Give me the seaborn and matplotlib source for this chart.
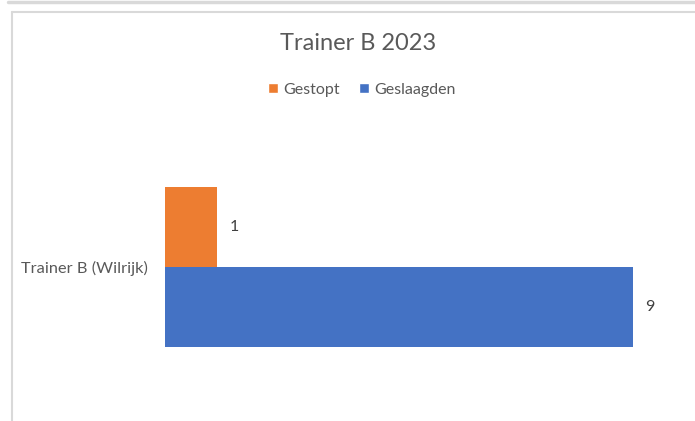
import matplotlib
matplotlib.use("Agg")
import matplotlib.pyplot as plt
from matplotlib.lines import Line2D
from matplotlib.patches import Patch
import seaborn as sns
import pandas as pd

categories = ["Trainer B (Wilrijk)"]
series = ["Gestopt", "Geslaagden"]
gestopt = [1]
geslaagden = [9]
colors = ["#ED7D31", "#4472C4"]

rows = []
for i, c in enumerate(categories):
    rows.append({"cat": c, "serie": "Gestopt", "val": gestopt[i]})
    rows.append({"cat": c, "serie": "Geslaagden", "val": geslaagden[i]})
df = pd.DataFrame(rows)

sns.set_theme(style="white")
plt.rcParams["font.family"] = ["Lato", "DejaVu Sans"]

W, H = 695, 421
fig = plt.figure(figsize=(W / 100, H / 100), dpi=100)
fig.patch.set_facecolor("white")

def fx(px):
    return px / W

def fy(py):
    return 1 - py / H

# axes: x 165 -> 685 px, y 120 -> 400 px
ax = fig.add_axes([fx(165), fy(400), fx(685) - fx(165), (400 - 120) / H])
sns.barplot(data=df, y="cat", x="val", hue="serie", hue_order=series,
            palette=colors, orient="h", width=0.8, saturation=1,
            ax=ax, legend=False, linewidth=0)
ax.set_xlim(0, 10)
ax.set_ylim(0.665, -0.735)
for s in ax.spines.values():
    s.set_visible(False)
ax.set_xticks([])
ax.set_yticks([])
ax.set_xlabel("")
ax.set_ylabel("")
ax.patch.set_alpha(0)

for cont in ax.containers:
    ax.bar_label(cont, padding=9, fontsize=11.5, color="#404040")

# category label
fig.text(fx(148), fy(268), categories[0], ha="right", va="center",
         fontsize=11.8, color="#595959")

# title
fig.text(fx(358), fy(44), "Trainer B 2023", ha="center", va="center",
         fontsize=17, color="#595959")

# legend
handles = [Patch(facecolor=colors[0], label=series[0]),
           Patch(facecolor=colors[1], label=series[1])]
fig.legend(handles=handles, loc="center", bbox_to_anchor=(fx(362), fy(90)),
           ncol=2, frameon=False, fontsize=11.5, handlelength=0.6,
           handleheight=0.6, handletextpad=0.35, columnspacing=1.2,
           labelcolor="#595959")

# frame lines
fig.add_artist(Line2D([fx(8), 1], [fy(1.5), fy(1.5)], color="#d9d9d9", lw=2.5))
fig.add_artist(Line2D([fx(12), 1], [fy(11.5), fy(11.5)], color="#d9d9d9", lw=1.5))
fig.add_artist(Line2D([fx(12), fx(12)], [fy(11.5), 0], color="#d9d9d9", lw=1.5))

fig.savefig("out.png", dpi=100)
